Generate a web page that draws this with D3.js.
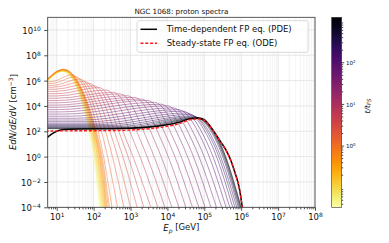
<!DOCTYPE html>
<html>
<head>
<meta charset="utf-8">
<script src="https://cdn.jsdelivr.net/npm/d3@7"></script>
<style>
body{margin:0;background:#fff}
svg{display:block;font-family:"DejaVu Sans",sans-serif}
</style>
</head>
<body>
<svg id="chart" width="389" height="243"></svg>
<script>
// snapshot times t/t_FS (colour of each thin curve)
const fanTime = [0.034,0.044,0.056,0.072,0.092,0.118,0.15,0.19,0.25,0.32,0.41,0.53,0.68,0.87,
  1.1,1.4,1.8,2.3,3.0,3.8,4.9,6.3,8.1,10.4,13.4,17.2,22,28,36,47,60,77,99,127,163,210,270,345,445,570,730,940];
// log10 N at the low energy end (~5 GeV)
const fanLowN = [5.80,5.82,5.83,5.85,5.86,5.88,5.89,5.91,5.92,5.94,5.95,5.97,5.98,6.00,
  5.92,5.78,5.63,5.48,5.32,5.15,4.97,4.79,4.61,4.43,4.25,4.07,3.89,3.71,3.53,3.36,3.19,3.03,2.89,2.76,2.64,2.54,2.46,2.39,2.33,2.28,2.24,2.21];
// log10 E where the flat low energy part ends
const fanFlatE = [0.7,0.7,0.7,0.7,0.7,0.7,0.7,0.7,0.7,0.7,0.7,0.7,0.7,0.7,
  0.85,0.87,0.9,0.92,0.95,0.97,1.0,1.0,1.0,1.0,1.0,1.0,1.0,1.05,1.1,1.2,1.35,1.5,1.7,1.9,2.1,2.3,2.5,2.7,2.85,3.0,3.1,3.2];
// maximum of each curve (log10 E, log10 N)
const fanPeakE = [1.16,1.16,1.16,1.17,1.17,1.17,1.17,1.18,1.18,1.18,1.18,1.18,1.18,1.18,
  1.40,1.50,1.62,1.75,1.88,2.01,2.15,2.34,2.53,2.72,2.91,3.10,3.28,3.45,3.64,3.82,3.99,4.15,4.29,4.41,4.51,4.59,4.66,4.71,4.75,4.78,4.81,4.82];
const fanPeakN = [6.72,6.73,6.74,6.76,6.77,6.78,6.80,6.81,6.83,6.84,6.86,6.87,6.89,6.90,
  6.45,6.30,6.12,5.94,5.77,5.59,5.45,5.26,5.08,4.95,4.81,4.68,4.55,4.44,4.29,4.14,4.01,3.85,3.71,3.59,3.45,3.33,3.22,3.15,3.10,3.06,3.03,3.01];
// log10 E where the cutoff crosses N = 10 and N = 1e-4
const fanE10 = [1.94,1.96,1.97,1.99,2.00,2.02,2.04,2.05,2.07,2.09,2.10,2.12,2.14,2.16,
  2.20,2.30,2.42,2.55,2.68,2.81,2.93,3.12,3.31,3.50,3.69,3.88,4.06,4.23,4.40,4.56,4.71,4.85,4.99,5.09,5.19,5.25,5.30,5.36,5.39,5.41,5.43,5.44];
const fanE4 = [2.15,2.17,2.19,2.21,2.23,2.25,2.27,2.29,2.31,2.33,2.35,2.37,2.40,2.43,
  2.50,2.65,2.82,3.00,3.18,3.36,3.55,3.74,3.93,4.12,4.31,4.50,4.68,4.85,5.02,5.18,5.33,5.47,5.59,5.69,5.77,5.83,5.88,5.92,5.95,5.97,5.99,6.00];

// final time-dependent solution (PDE) and steady state (ODE), log10 values
const pdeLogE = [0.70,0.85,1.00,1.20,1.60,2.50,3.00,3.50,3.90,4.34,4.60,4.85,5.00,5.15,5.30,5.45,5.60,5.72,5.83,5.95,6.03,6.08];
const pdeLogN = [1.40,1.75,2.00,2.15,2.19,2.21,2.25,2.34,2.48,2.74,2.98,3.05,2.92,2.44,1.82,1.15,0.45,-0.30,-1.25,-2.50,-4.00,-5.20];
const odeLogE = [0.70,1.50,2.50,3.00,3.50,3.90,4.34,4.60,4.85,5.00,5.15,5.30,5.45,5.60,5.72,5.83,5.95,6.03,6.08];
const odeLogN = [2.02,2.04,2.06,2.10,2.20,2.35,2.62,2.90,2.98,2.87,2.40,1.80,1.13,0.43,-0.32,-1.27,-2.52,-4.02,-5.20];

const xMajor = [1e1,1e2,1e3,1e4,1e5,1e6,1e7,1e8];
const xTickExp = [1,2,3,4,5,6,7,8];
const yMajor = [1e-4,1e-2,1e0,1e2,1e4,1e6,1e8,1e10];
const yTickExp = [-4,-2,0,2,4,6,8,10];
const cMajor = [1,10,100];
const cTickExp = [0,1,2];
const tMin = 0.033, tMax = 1200;

const plot = {l:47.7, r:315, t:17.3, b:207.3};
const svg = d3.select("#chart");
const x = d3.scaleLog().domain([5.7,1e8]).range([plot.l,plot.r]);
const y = d3.scaleLog().domain([1e-4,1e11]).range([plot.b,plot.t]);
const cy = d3.scaleLog().domain([tMin,tMax]).range([plot.b,plot.t]);
const cnorm = d3.scaleLog().domain([tMin,tMax]).range([1,0]);
const color = t => d3.interpolateInferno(cnorm(t));
const isDecade = v => Math.abs(Math.log10(v) - Math.round(Math.log10(v))) < 1e-6;

function supLabel(sel, exp, fs){
  sel.text(null);
  sel.append("tspan").text("10");
  sel.append("tspan").attr("dy","-0.5em").attr("font-size",fs*0.7)
    .text(exp < 0 ? "\u2212" + (-exp) : exp);
}

// grid
const grid = svg.append("g");
grid.selectAll(".gxm").data(x.ticks().filter(v => !isDecade(v))).enter().append("line")
  .attr("x1",d=>x(d)).attr("x2",d=>x(d)).attr("y1",plot.t).attr("y2",plot.b)
  .attr("stroke","#ededed").attr("stroke-width",0.6);
grid.selectAll(".gx").data(xMajor).enter().append("line")
  .attr("x1",d=>x(d)).attr("x2",d=>x(d)).attr("y1",plot.t).attr("y2",plot.b)
  .attr("stroke","#dedede").attr("stroke-width",0.7);
grid.selectAll(".gy").data(yMajor).enter().append("line")
  .attr("y1",d=>y(d)).attr("y2",d=>y(d)).attr("x1",plot.l).attr("x2",plot.r)
  .attr("stroke","#dedede").attr("stroke-width",0.7);

svg.append("clipPath").attr("id","clip").append("rect")
  .attr("x",plot.l).attr("y",plot.t).attr("width",plot.r-plot.l).attr("height",plot.b-plot.t);

const line = d3.line()
  .x(p => x(Math.pow(10,p[0])))
  .y(p => y(Math.pow(10,p[1])))
  .curve(d3.curveMonotoneX);

const curves = svg.append("g").attr("clip-path","url(#clip)");
fanTime.forEach((t,i) => {
  const pts = [[0.7, fanLowN[i]]];
  if (fanFlatE[i] > 0.72) pts.push([fanFlatE[i], fanLowN[i]]);
  pts.push([fanPeakE[i], fanPeakN[i]], [fanE10[i], 1], [fanE4[i], -4]);
  curves.append("path").attr("d", line(pts)).attr("fill","none")
    .attr("stroke", color(t)).attr("stroke-width",0.75).attr("stroke-opacity",0.6);
});
curves.append("path").attr("d", line(pdeLogE.map((e,i)=>[e,pdeLogN[i]])))
  .attr("fill","none").attr("stroke","#000").attr("stroke-width",1.5);
curves.append("path").attr("d", line(odeLogE.map((e,i)=>[e,odeLogN[i]])))
  .attr("fill","none").attr("stroke","#ff1a1a").attr("stroke-width",1.4).attr("stroke-dasharray","3,1.8");

// axes
function styleAxis(g){
  g.attr("font-family","DejaVu Sans").select(".domain").remove();
  g.selectAll(".tick line").attr("stroke","#222").attr("stroke-width",0.8);
}
const gxm = svg.append("g").attr("transform",`translate(0,${plot.b})`)
  .call(d3.axisBottom(x).tickValues(x.ticks().filter(v=>!isDecade(v))).tickSize(2).tickFormat(()=>""));
styleAxis(gxm);
const gx = svg.append("g").attr("transform",`translate(0,${plot.b})`)
  .call(d3.axisBottom(x).tickValues(xMajor).tickSize(3.5).tickPadding(3.5).tickFormat(()=>""));
styleAxis(gx);
gx.selectAll(".tick text").attr("font-size",8.5).attr("fill","#111").each(function(d,i){ supLabel(d3.select(this), xTickExp[i], 8.5); });

const gy = svg.append("g").attr("transform",`translate(${plot.l},0)`)
  .call(d3.axisLeft(y).tickValues(yMajor).tickSize(3.5).tickPadding(3.5).tickFormat(()=>""));
styleAxis(gy);
gy.selectAll(".tick text").attr("font-size",8.5).attr("fill","#111").attr("dy","0.42em")
  .each(function(d,i){ supLabel(d3.select(this), yTickExp[i], 8.5); });

svg.append("rect").attr("x",plot.l).attr("y",plot.t).attr("width",plot.r-plot.l).attr("height",plot.b-plot.t)
  .attr("fill","none").attr("stroke","#333").attr("stroke-width",0.8);

// labels
svg.append("text").attr("x",(plot.l+plot.r)/2).attr("y",13.5).attr("text-anchor","middle")
  .attr("font-size",7.2).attr("fill","#111").text("NGC 1068: proton spectra");
const xl = svg.append("text").attr("x",(plot.l+plot.r)/2).attr("y",231).attr("text-anchor","middle")
  .attr("font-size",8.5).attr("fill","#111");
xl.append("tspan").attr("font-style","italic").text("E");
xl.append("tspan").attr("font-style","italic").attr("font-size",6).attr("dy","0.25em").text("p");
xl.append("tspan").attr("dy","-0.25em").text(" [GeV]");
const yl = svg.append("text").attr("transform","translate(15.5,112) rotate(-90)").attr("text-anchor","middle")
  .attr("font-size",8.5).attr("fill","#111");
yl.append("tspan").attr("font-style","italic").text("EdN/dE/dV");
yl.append("tspan").text(" [cm");
yl.append("tspan").attr("font-size",6).attr("dy","-0.45em").text("\u22123");
yl.append("tspan").attr("dy","0.45em").text("]");

// legend
const lg = svg.append("g");
lg.append("rect").attr("x",137).attr("y",20.7).attr("width",171).attr("height",31.6).attr("rx",2)
  .attr("fill","#fff").attr("fill-opacity",0.8).attr("stroke","#d0d0d0").attr("stroke-width",0.8);
lg.append("line").attr("x1",140.5).attr("x2",157).attr("y1",29.3).attr("y2",29.3).attr("stroke","#000").attr("stroke-width",1.5);
lg.append("line").attr("x1",140.5).attr("x2",157).attr("y1",43.3).attr("y2",43.3).attr("stroke","#ff1a1a")
  .attr("stroke-width",1.4).attr("stroke-dasharray","3,1.8");
lg.append("text").attr("x",166.7).attr("y",32.4).attr("font-size",8.5).attr("fill","#111").text("Time-dependent FP eq. (PDE)");
lg.append("text").attr("x",166.7).attr("y",46.4).attr("font-size",8.5).attr("fill","#111").text("Steady-state FP eq. (ODE)");

// colorbar
const cb = {x:331.7, w:10};
const grad = svg.append("defs").append("linearGradient").attr("id","cgrad")
  .attr("x1",0).attr("y1",0).attr("x2",0).attr("y2",1);
d3.range(0,1.0001,0.05).forEach(o => grad.append("stop").attr("offset",o).attr("stop-color",d3.interpolateInferno(o)));
svg.append("rect").attr("x",cb.x).attr("y",plot.t).attr("width",cb.w).attr("height",plot.b-plot.t)
  .attr("fill","url(#cgrad)").attr("stroke","#333").attr("stroke-width",0.6);
const gcm = svg.append("g").attr("transform",`translate(${cb.x+cb.w},0)`)
  .call(d3.axisRight(cy).tickValues(cy.ticks().filter(v=>!isDecade(v))).tickSize(1.5).tickFormat(()=>""));
styleAxis(gcm);
const gc = svg.append("g").attr("transform",`translate(${cb.x+cb.w},0)`)
  .call(d3.axisRight(cy).tickValues(cMajor).tickSize(2.5).tickPadding(1.8).tickFormat(()=>""));
styleAxis(gc);
gc.selectAll(".tick text").attr("font-size",5.6).attr("fill","#111").attr("dy","0.4em")
  .each(function(d,i){ supLabel(d3.select(this), cTickExp[i], 5.6); });
const cl = svg.append("text").attr("transform","translate(369.5,106) rotate(-90)").attr("text-anchor","middle")
  .attr("font-size",7.5).attr("fill","#111");
cl.append("tspan").attr("font-style","italic").text("t/t");
cl.append("tspan").attr("font-style","italic").attr("font-size",5.5).attr("dy","0.3em").text("FS");
</script>
</body>
</html>
